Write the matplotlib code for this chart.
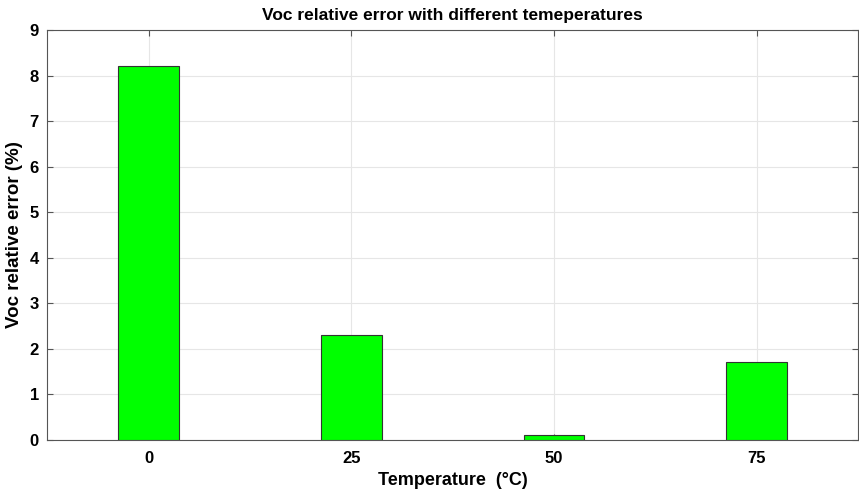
import matplotlib.pyplot as plt
import numpy as np

temps = ['0', '25', '50', '75']
errors = [8.2, 2.3, 0.1, 1.7]
x_pos = np.arange(1, len(temps) + 1)

plt.rcParams['font.family'] = ['Liberation Sans', 'DejaVu Sans']
plt.rcParams['font.weight'] = 'bold'

fig = plt.figure(figsize=(8.59, 4.91), dpi=100)
ax = fig.add_axes([0.055, 0.104, 0.944, 0.835])
ax.bar(x_pos, errors, width=0.3, color='#00ff00', edgecolor='#333333', linewidth=0.8, zorder=3)
ax.set_xlim(0.5, 4.5)
ax.set_ylim(0, 9)
ax.set_xticks(x_pos)
ax.set_xticklabels(temps)
ax.set_yticks(np.arange(0, 10, 1))
ax.tick_params(direction='in', top=True, right=True, labelsize=12, length=4, color='#555555')
ax.tick_params(axis='x', pad=8)
ax.tick_params(axis='y', pad=6)
ax.grid(True, color='#e6e6e6', linewidth=0.8, zorder=0)
for s in ax.spines.values():
    s.set_color('#555555')
    s.set_linewidth(0.8)
ax.set_title('Voc relative error with different temeperatures', fontsize=12.5, fontweight='bold', pad=7)
ax.set_xlabel('Temperature  (\u00b0C)', fontsize=13, fontweight='bold', labelpad=4)
ax.set_ylabel('Voc relative error (%)', fontsize=13.5, fontweight='bold', labelpad=5)

plt.savefig('out.png', dpi=100)
